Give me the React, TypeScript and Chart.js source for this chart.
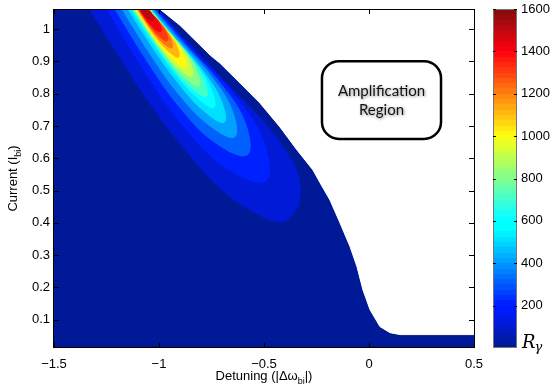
import { useEffect, useRef } from "react";
import { Chart, registerables } from "chart.js";

Chart.register(...registerables);

// ---------- data ----------
const detuningRange = [-1.5, 0.5];
const currentRange = [0.0125, 1.0625];
const detuningTicks = [-1.5, -1, -0.5, 0, 0.5];
const currentTicks = [0.1, 0.2, 0.3, 0.4, 0.5, 0.6, 0.7, 0.8, 0.9, 1];
const colorbarRange = [0, 1600];
const colorbarTicks = [200, 400, 600, 800, 1000, 1200, 1400, 1600];
const contourLevels = [100, 200, 300, 400, 500, 600, 700, 800, 900, 1000, 1100, 1200, 1300, 1400, 1500];

// edge of the amplification region (bottom -> top)
const boundaryDetuning = [0.6, 0.148, 0.1, 0.052, 0.005, -0.029, -0.057, -0.09, -0.138, -0.186, -0.233, -0.267, -0.343, -0.424, -0.519, -0.614, -0.71, -0.757, -0.805, -0.852, -0.9, -0.995, -1.06];
const boundaryCurrent = [0.054, 0.054, 0.06, 0.079, 0.131, 0.193, 0.264, 0.326, 0.4, 0.471, 0.524, 0.564, 0.626, 0.697, 0.771, 0.833, 0.895, 0.92, 0.951, 0.981, 1.012, 1.062, 1.1];

// filled contour outlines [detuning, current]
const contour100 = [[-1.357, 1.0896], [-1.181, 0.9073], [-1.024, 0.7527], [-0.8667, 0.6198], [-0.7048, 0.5054], [-0.5571, 0.4374], [-0.4238, 0.4034], [-0.3571, 0.4312], [-0.3286, 0.4838], [-0.3429, 0.558], [-0.4, 0.626], [-0.481, 0.6971], [-0.5714, 0.762], [-0.657, 0.8176], [-0.738, 0.8733], [-0.8, 0.9165], [-0.876, 0.966], [-0.948, 1.0124], [-1.0095, 1.0618], [-1.043, 1.0896]];
const contour200 = [[-1.29, 1.109], [-1.049, 0.85], [-0.867, 0.687], [-0.675, 0.569], [-0.492, 0.53], [-0.5, 0.649], [-0.636, 0.792], [-0.847, 0.942], [-1.154, 1.171]];
const contour300 = [[-1.252, 1.108], [-1.044, 0.888], [-0.89, 0.749], [-0.729, 0.647], [-0.58, 0.611], [-0.59, 0.711], [-0.707, 0.832], [-0.885, 0.961], [-1.145, 1.157]];
const contour400 = [[-1.221, 1.11], [-1.036, 0.917], [-0.9, 0.794], [-0.762, 0.703], [-0.64, 0.666], [-0.654, 0.752], [-0.757, 0.859], [-0.912, 0.973], [-1.139, 1.147]];
const contour500 = [[-1.195, 1.111], [-1.028, 0.941], [-0.907, 0.832], [-0.789, 0.748], [-0.689, 0.712], [-0.708, 0.785], [-0.801, 0.88], [-0.936, 0.983], [-1.135, 1.139]];
const contour600 = [[-1.178, 1.109], [-1.031, 0.96], [-0.925, 0.864], [-0.823, 0.791], [-0.738, 0.757], [-0.756, 0.821], [-0.838, 0.904], [-0.956, 0.994], [-1.129, 1.131]];
const contour700 = [[-1.168, 1.106], [-1.036, 0.973], [-0.942, 0.887], [-0.851, 0.821], [-0.775, 0.792], [-0.79, 0.849], [-0.863, 0.923], [-0.969, 1.003], [-1.124, 1.126]];
const contour800 = [[-1.159, 1.102], [-1.043, 0.984], [-0.959, 0.908], [-0.878, 0.85], [-0.81, 0.824], [-0.823, 0.875], [-0.888, 0.941], [-0.982, 1.012], [-1.12, 1.12]];
const contour900 = [[-1.151, 1.099], [-1.049, 0.995], [-0.975, 0.928], [-0.903, 0.877], [-0.843, 0.854], [-0.854, 0.899], [-0.911, 0.957], [-0.994, 1.02], [-1.115, 1.116]];
const contour1000 = [[-1.144, 1.097], [-1.054, 1.005], [-0.989, 0.946], [-0.925, 0.901], [-0.872, 0.881], [-0.882, 0.921], [-0.932, 0.972], [-1.005, 1.027], [-1.112, 1.111]];
const contour1100 = [[-1.136, 1.093], [-1.06, 1.016], [-1.006, 0.967], [-0.952, 0.93], [-0.907, 0.913], [-0.915, 0.947], [-0.957, 0.989], [-1.018, 1.036], [-1.107, 1.106]];
const contour1200 = [[-1.128, 1.09], [-1.066, 1.027], [-1.021, 0.986], [-0.976, 0.955], [-0.938, 0.942], [-0.944, 0.97], [-0.978, 1.006], [-1.029, 1.044], [-1.103, 1.101]];
const contour1300 = [[-1.122, 1.088], [-1.07, 1.035], [-1.032, 1.001], [-0.994, 0.975], [-0.961, 0.964], [-0.965, 0.988], [-0.994, 1.018], [-1.037, 1.05], [-1.1, 1.098]];
const contour1400 = [[-1.115, 1.085], [-1.077, 1.045], [-1.048, 1.019], [-1.019, 1.0], [-0.992, 0.993], [-0.994, 1.011], [-1.015, 1.034], [-1.048, 1.057], [-1.096, 1.093]];
const contour1500 = [[-1.106, 1.081], [-1.084, 1.057], [-1.067, 1.041], [-1.048, 1.031], [-1.03, 1.027], [-1.029, 1.039], [-1.041, 1.053], [-1.062, 1.067], [-1.092, 1.088]];

const contourPolygons = [contour100, contour200, contour300, contour400, contour500, contour600, contour700, contour800, contour900, contour1000, contour1100, contour1200, contour1300, contour1400, contour1500];

const annotationLines = ["Amplification", "Region"];
const annotationBox = { x0: -0.224, x1: 0.343, y0: 0.66, y1: 0.901 };

// ---------- styling ----------
function jet(t: number): [number, number, number] {
  const c = (v: number) => Math.max(0, Math.min(1, v));
  return [c(1.5 - Math.abs(4 * t - 3)), c(1.5 - Math.abs(4 * t - 2)), c(1.5 - Math.abs(4 * t - 1))];
}
function tint(rgb: [number, number, number]): string {
  const r = Math.round(rgb[0] * 255);
  const g = Math.round(Math.min(1, rgb[1] + 0.1 * (1 - rgb[0])) * 255);
  const b = Math.round(Math.min(1, rgb[2] + 0.06) * 255);
  return `rgb(${r},${g},${b})`;
}
function bandColor(value: number): string {
  const idx = Math.floor((value / colorbarRange[1]) * 64);
  return tint(jet((idx + 0.5) / 64));
}

const FONT = "'Liberation Sans', Arial, Helvetica, sans-serif";
const fmt = (v: number) => String(Number(v.toFixed(2))).replace("-", "\u2212");
const noPad = (s: any) => {
  s.paddingTop = 0;
  s.paddingBottom = 0;
  s.paddingLeft = 0;
  s.paddingRight = 0;
};

function drawSubText(ctx: CanvasRenderingContext2D, parts: [string, boolean][], cx: number, cy: number) {
  const big = `13px ${FONT}`;
  const small = `9px ${FONT}`;
  let w = 0;
  for (const [s, sub] of parts) {
    ctx.font = sub ? small : big;
    w += ctx.measureText(s).width;
  }
  let x = cx - w / 2;
  ctx.textBaseline = "alphabetic";
  ctx.textAlign = "left";
  for (const [s, sub] of parts) {
    ctx.font = sub ? small : big;
    ctx.fillText(s, x, sub ? cy + 4 : cy);
    x += ctx.measureText(s).width;
  }
}

const framePlugin = {
  id: "frame",
  afterDraw(chart: any) {
    const { ctx, chartArea: a, scales } = chart;
    const xs = scales.x;
    const ys = scales.y;
    ctx.save();
    // annotation box
    const bx0 = xs.getPixelForValue(annotationBox.x0);
    const bx1 = xs.getPixelForValue(annotationBox.x1);
    const by0 = ys.getPixelForValue(annotationBox.y1);
    const by1 = ys.getPixelForValue(annotationBox.y0);
    ctx.lineWidth = 2.5;
    ctx.strokeStyle = "#000";
    ctx.beginPath();
    (ctx as any).roundRect(bx0, by0, bx1 - bx0, by1 - by0, 17);
    ctx.stroke();
    const cx = (bx0 + bx1) / 2;
    const cy = (by0 + by1) / 2;
    ctx.font = `15px Lato, 'Open Sans', sans-serif`;
    ctx.textAlign = "center";
    ctx.textBaseline = "middle";
    ctx.shadowColor = "rgba(0,0,0,0.45)";
    ctx.shadowBlur = 3;
    ctx.shadowOffsetX = 1;
    ctx.shadowOffsetY = 1;
    ctx.fillStyle = "#111";
    ctx.fillText(annotationLines[0], cx, cy - 9);
    ctx.fillText(annotationLines[1], cx, cy + 10);
    ctx.shadowColor = "transparent";
    ctx.shadowBlur = 0;
    ctx.shadowOffsetX = 0;
    ctx.shadowOffsetY = 0;

    // axes box
    ctx.strokeStyle = "#000";
    ctx.lineWidth = 1;
    ctx.strokeRect(Math.round(a.left) - 0.5, Math.round(a.top) + 0.5, Math.round(a.right - a.left) + 1, Math.round(a.bottom - a.top) - 1);
    // inward ticks
    ctx.beginPath();
    for (const t of xs.ticks) {
      const p = Math.round(xs.getPixelForValue(t.value)) + 0.5;
      ctx.moveTo(p, a.bottom);
      ctx.lineTo(p, a.bottom - 5);
      ctx.moveTo(p, a.top);
      ctx.lineTo(p, a.top + 5);
    }
    for (const t of ys.ticks) {
      const p = Math.round(ys.getPixelForValue(t.value)) + 0.5;
      ctx.moveTo(a.left, p);
      ctx.lineTo(a.left + 5, p);
      ctx.moveTo(a.right, p);
      ctx.lineTo(a.right - 5, p);
    }
    ctx.stroke();

    // axis titles
    ctx.fillStyle = "#000";
    drawSubText(ctx, [["Detuning (|\u0394\u03c9", false], ["bi", true], ["|)", false]], (a.left + a.right) / 2, 380);
    ctx.translate(17, (a.top + a.bottom) / 2);
    ctx.rotate(-Math.PI / 2);
    drawSubText(ctx, [["Current (I", false], ["bi", true], [")", false]], 0, 0);
    ctx.restore();
  },
};

const colorbarPlugin = {
  id: "cbframe",
  afterDraw(chart: any) {
    const { ctx, chartArea: a, scales } = chart;
    const ys = scales.y;
    ctx.save();
    ctx.strokeStyle = "#777";
    ctx.lineWidth = 1;
    ctx.strokeRect(Math.round(a.left) + 0.5, Math.round(a.top) + 0.5, Math.round(a.right - a.left) - 1, Math.round(a.bottom - a.top) - 1);
    ctx.strokeStyle = "#000";
    ctx.beginPath();
    for (const t of ys.ticks) {
      const p = Math.round(ys.getPixelForValue(t.value)) + 0.5;
      ctx.moveTo(a.left, p);
      ctx.lineTo(a.left + 3, p);
      ctx.moveTo(a.right, p);
      ctx.lineTo(a.right - 3, p);
    }
    ctx.stroke();
    ctx.fillStyle = "#000";
    ctx.textAlign = "left";
    ctx.textBaseline = "alphabetic";
    ctx.font = `italic 18px 'DejaVu Serif', 'Liberation Serif', serif`;
    ctx.fillText("R", a.right + 5, a.bottom);
    const w = ctx.measureText("R").width;
    ctx.font = `italic 13px 'DejaVu Serif', 'Liberation Serif', serif`;
    ctx.fillText("\u03b3", a.right + 4 + w, a.bottom + 3);
    ctx.restore();
  },
};

export default function App() {
  const mainRef = useRef<HTMLCanvasElement>(null);
  const barRef = useRef<HTMLCanvasElement>(null);

  useEffect(() => {
    document.body.style.margin = "0";
    const pad = 0.12;
    const lowX = detuningRange[0] - pad;
    const highY = currentRange[1] + pad;
    const lowY = currentRange[0] - pad;
    const boundaryPts = boundaryDetuning.map((x, i) => ({ x, y: boundaryCurrent[i] }));
    const navy = bandColor(0);

    const datasets: any[] = [];
    datasets.push({
      data: [...boundaryPts, { x: boundaryDetuning[0], y: highY }],
      order: 0,
      backgroundColor: "#fff",
      borderColor: "#fff",
      borderWidth: 1,
      fill: "shape",
      tension: 0,
    });
    contourPolygons.forEach((poly, i) => {
      const col = bandColor(contourLevels[i]);
      datasets.push({
        data: poly.map(([x, y]) => ({ x, y })),
        order: contourPolygons.length - i,
        backgroundColor: col,
        borderColor: col,
        borderWidth: 1,
        fill: "shape",
        tension: 0.4,
      });
    });
    datasets.push({
      data: [{ x: lowX, y: lowY }, { x: boundaryDetuning[0], y: lowY }, ...boundaryPts, { x: lowX, y: highY }],
      order: 100,
      backgroundColor: navy,
      borderColor: navy,
      borderWidth: 1,
      fill: "shape",
      tension: 0,
    });

    const main = new Chart(mainRef.current!, {
      type: "scatter",
      data: { datasets },
      plugins: [framePlugin],
      options: {
        responsive: false,
        animation: false,
        showLine: true,
        elements: { point: { radius: 0, hoverRadius: 0 }, line: { capBezierPoints: false } },
        layout: { padding: { top: 9, right: 12, left: 0, bottom: 0 } },
        plugins: { legend: { display: false }, tooltip: { enabled: false } },
        events: [],
        scales: {
          x: {
            type: "linear",
            min: detuningRange[0],
            max: detuningRange[1],
            grid: { display: false, drawTicks: false },
            border: { display: false },
            afterBuildTicks: (s: any) => { s.ticks = detuningTicks.map((value) => ({ value })); },
            afterFit: (s: any) => { s.height = 38; noPad(s); },
            ticks: { color: "#000", font: { family: FONT, size: 13 }, padding: 9, maxRotation: 0, callback: (v: any) => fmt(Number(v)) },
          },
          y: {
            type: "linear",
            min: currentRange[0],
            max: currentRange[1],
            grid: { display: false, drawTicks: false },
            border: { display: false },
            afterBuildTicks: (s: any) => { s.ticks = currentTicks.map((value) => ({ value })); },
            afterFit: (s: any) => { s.width = 54; noPad(s); },
            ticks: { color: "#000", font: { family: FONT, size: 13 }, padding: 4, callback: (v: any) => fmt(Number(v)) },
          },
        },
      } as any,
    });

    const bar = new Chart(barRef.current!, {
      type: "bar",
      data: {
        labels: [""],
        datasets: [
          {
            data: [[colorbarRange[0], colorbarRange[1]]] as any,
            barPercentage: 1,
            categoryPercentage: 1,
            borderWidth: 0,
            backgroundColor: (c: any) => {
              const area = c.chart.chartArea;
              if (!area) return "#00f";
              const g = c.chart.ctx.createLinearGradient(0, area.bottom, 0, area.top);
              for (let i = 0; i < 64; i++) {
                const col = tint(jet((i + 0.5) / 64));
                g.addColorStop(i / 64, col);
                g.addColorStop((i + 1) / 64 - 1e-6, col);
              }
              return g;
            },
          },
        ],
      },
      plugins: [colorbarPlugin],
      options: {
        responsive: false,
        animation: false,
        events: [],
        layout: { padding: { top: 9, bottom: 38, left: 7, right: 0 } },
        plugins: { legend: { display: false }, tooltip: { enabled: false } },
        scales: {
          x: { display: false, afterFit: noPad },
          y: {
            position: "right",
            min: colorbarRange[0],
            max: colorbarRange[1],
            grid: { display: false, drawTicks: false },
            border: { display: false },
            afterBuildTicks: (s: any) => { s.ticks = colorbarTicks.map((value) => ({ value })); },
            afterFit: (s: any) => { s.width = 37; noPad(s); },
            ticks: { color: "#000", font: { family: FONT, size: 13 }, padding: 4, callback: (v: any) => String(v) },
          },
        },
      } as any,
    });

    return () => {
      main.destroy();
      bar.destroy();
    };
  }, []);

  return (
    <div style={{ position: "absolute", left: 0, top: 0, width: 554, height: 386, background: "#fff", overflow: "hidden" }}>
      <canvas ref={mainRef} width={486} height={386} style={{ position: "absolute", left: 0, top: 0 }} />
      <canvas ref={barRef} width={68} height={386} style={{ position: "absolute", left: 486, top: 0 }} />
    </div>
  );
}
